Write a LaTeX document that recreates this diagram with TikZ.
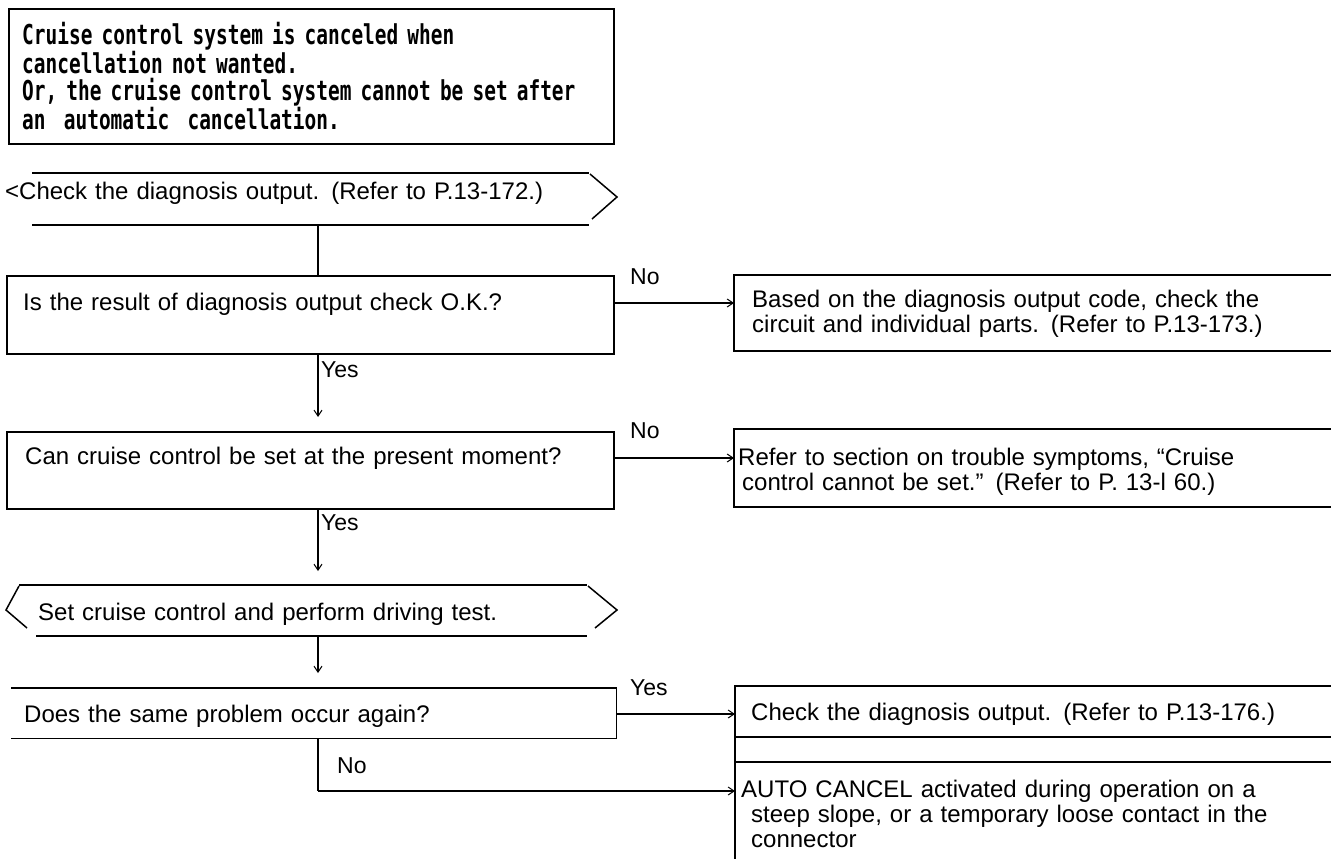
\documentclass[tikz,border=0pt]{standalone}
\usepackage{fontspec}
\setmainfont{Liberation Sans}
\newfontfamily\titlefont{DejaVu Sans Mono}[FakeStretch=0.71]
\usetikzlibrary{arrows.meta}
\tikzset{
  body/.style={font=\fontsize{24}{25}\selectfont, inner sep=0pt, anchor=base west, align=left, text width=590pt},
  lbl/.style={font=\fontsize{23}{25}\selectfont, inner sep=0pt, anchor=base west},
  dbox/.style={draw, line width=1.5pt, inner sep=0pt, anchor=north west},
  rbox/.style={inner sep=0pt, anchor=north west},
  rline/.style={line width=2pt},
  conn/.style={line width=1.3pt},
  arr/.style={conn, -{Straight Barb[length=6pt,width=8pt,line width=1pt]}},
}
\begin{document}
\begin{tikzpicture}[x=1pt,y=-1pt]
\useasboundingbox (0,0) rectangle (1331,859);
\coordinate (vx) at (318,0);
% title
\node[draw, line width=2pt, inner sep=0pt, anchor=north west, minimum width=605pt, minimum height=135pt] (title) at (8,8) {};
\node[inner sep=0pt, anchor=base west, align=left, text width=590pt, font=\titlefont\bfseries\fontsize{27.4}{27}\selectfont] (titletext) at (22,45)
 {Cruise control system is canceled when\\cancellation not wanted.\\Or, the cruise control system cannot be set after\\an\ \ automatic\ \ cancellation.};
% hexagon 1
\draw[rline] (32,173) -- (589,173) (32,225) -- (589,225);
\draw[line width=1.5pt] (590,174) -- (617,197) -- (592,219);
\node[body] (h1) at (5,199) {<Check the diagnosis output. (Refer to P.13-172.)};
\coordinate (h1b) at (318,225);
% box 1
\node[dbox, minimum width=607pt, minimum height=78pt] (b1) at (6,275) {};
\node[body] (b1t) at (23,310) {Is the result of diagnosis output check O.K.?};
\draw[conn] (h1b) -- (vx |- b1.north);
% right box 1
\node[rbox, minimum width=597pt, minimum height=76pt] (r1) at (734,275) {};
\draw[rline] (r1.north east) -- (r1.north west) -- (r1.south west) -- (r1.south east);
\node[body] (r1t) at (752,307) {Based on the diagnosis output code, check the\\circuit and individual parts. (Refer to P.13-173.)};
\coordinate (y1) at (0,303);
\draw[arr] (b1.east |- y1) -- (r1.west |- y1);
\node[lbl] (no1) at (630,284) {No};
% box 2
\node[dbox, minimum width=607pt, minimum height=77pt] (b2) at (6,431) {};
\node[body] (b2t) at (25,464) {Can cruise control be set at the present moment?};
\coordinate (t1) at (318,417);
\draw[arr] (vx |- b1.south) -- (t1);
\node[lbl] (yes1) at (321,377) {Yes};
% right box 2
\node[rbox, minimum width=597pt, minimum height=78pt] (r2) at (734,429) {};
\draw[rline] (r2.north east) -- (r2.north west) -- (r2.south west) -- (r2.south east);
\node[body] (r2t) at (738,465) {Refer to section on trouble symptoms, “Cruise\\\hspace*{4pt}control cannot be set.” (Refer to P. 13-l 60.)};
\coordinate (y2) at (0,458);
\draw[arr] (b2.east |- y2) -- (r2.west |- y2);
\node[lbl] (no2) at (630,438) {No};
% hexagon 2
\coordinate (t2) at (318,571);
\draw[arr] (vx |- b2.south) -- (t2);
\node[lbl] (yes2) at (321,530) {Yes};
\draw[rline] (19,585) -- (587,585) (36,636) -- (587,636);
\draw[line width=1.5pt] (19,586) -- (6,610) -- (27,628);
\draw[line width=1.5pt] (588,586) -- (617,610) -- (595,628);
\node[body] (h2) at (38,620) {Set cruise control and perform driving test.};
\coordinate (h2b) at (318,636);
% box 3 (no left edge)
\coordinate (t3) at (318,673);
\draw[arr] (h2b) -- (t3);
\node[inner sep=0pt, anchor=north west, minimum width=605pt, minimum height=50pt] (b3) at (11,688) {};
\draw[line width=1.5pt] (b3.north west) -- (b3.north east) -- (b3.south east) -- (b3.south west);
\node[body] (b3t) at (24,722) {Does the same problem occur again?};
% right box 3 and 4
\node[rbox, minimum width=596pt, minimum height=51pt] (r3) at (735,686) {};
\node[rbox, minimum width=596pt, minimum height=97pt] (r4) at (735,762) {};
\draw[rline] (r3.north east) -- (r3.north west) -- (r4.south west);
\draw[rline] (r3.south west) -- (r3.south east);
\draw[rline] (r4.north west) -- (r4.north east);
\node[body] (r3t) at (751,720) {Check the diagnosis output. (Refer to P.13-176.)};
\node[body] (r4t) at (741,797) {AUTO CANCEL activated during operation on a\\\hspace*{10pt}steep slope, or a temporary loose contact in the\\\hspace*{10pt}connector};
\coordinate (y3) at (0,714);
\draw[arr] (b3.east |- y3) -- (r3.west |- y3);
\node[lbl] (yes3) at (630,695) {Yes};
\coordinate (c4) at (318,791);
\draw[conn] (vx |- b3.south) -- (c4);
\draw[arr] (c4) -- (r4.west |- c4);
\node[lbl] (no3) at (337,773) {No};
\end{tikzpicture}
\end{document}
